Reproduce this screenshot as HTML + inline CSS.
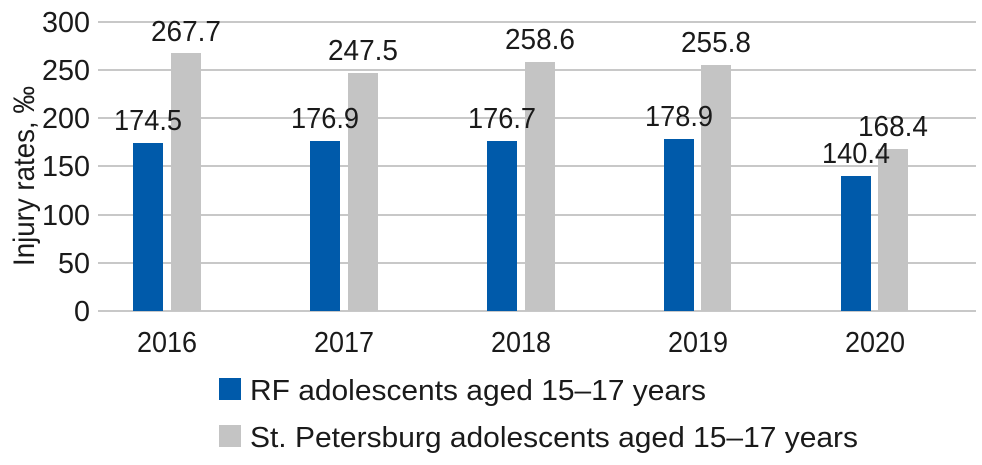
<!DOCTYPE html>
<html><head><meta charset="utf-8"><style>
html,body{margin:0;padding:0;background:#fff;}
text{font-family:"Liberation Sans",sans-serif;fill:#1a1a1a;}
</style></head><body>
<svg width="982" height="460" xmlns="http://www.w3.org/2000/svg">
<g stroke="#c8c8c8" stroke-width="2">
<line x1="98" x2="976" y1="22" y2="22"/>
<line x1="98" x2="976" y1="70" y2="70"/>
<line x1="98" x2="976" y1="118" y2="118"/>
<line x1="98" x2="976" y1="166" y2="166"/>
<line x1="98" x2="976" y1="215" y2="215"/>
<line x1="98" x2="976" y1="263" y2="263"/>
<line x1="98" x2="976" y1="311" y2="311"/>
</g>
<g font-size="29" text-anchor="end" lengthAdjust="spacingAndGlyphs">
<text x="90" y="32" textLength="48" lengthAdjust="spacingAndGlyphs">300</text>
<text x="90" y="80" textLength="48" lengthAdjust="spacingAndGlyphs">250</text>
<text x="90" y="128" textLength="48" lengthAdjust="spacingAndGlyphs">200</text>
<text x="90" y="176" textLength="48" lengthAdjust="spacingAndGlyphs">150</text>
<text x="90" y="225" textLength="48" lengthAdjust="spacingAndGlyphs">100</text>
<text x="90" y="273" textLength="32" lengthAdjust="spacingAndGlyphs">50</text>
<text x="90" y="321" textLength="16" lengthAdjust="spacingAndGlyphs">0</text>
</g>
<text font-size="30" transform="translate(34,176) rotate(-90)" text-anchor="middle" textLength="180" lengthAdjust="spacingAndGlyphs">Injury rates, ‰</text>
<g fill="#005aaa">
<rect x="133" y="143" width="30" height="168"/>
<rect x="310" y="141" width="30" height="170"/>
<rect x="487" y="141" width="30" height="170"/>
<rect x="664" y="139" width="30" height="172"/>
<rect x="841" y="176" width="30" height="135"/>
</g>
<g fill="#c4c4c4">
<rect x="171" y="53" width="30" height="258"/>
<rect x="348" y="73" width="30" height="238"/>
<rect x="525" y="62" width="30" height="249"/>
<rect x="701" y="65" width="30" height="246"/>
<rect x="878" y="149" width="30" height="162"/>
</g>
<g font-size="29" text-anchor="middle">
<text x="148" y="130" textLength="68" lengthAdjust="spacingAndGlyphs">174.5</text>
<text x="186" y="41" textLength="70" lengthAdjust="spacingAndGlyphs">267.7</text>
<text x="325" y="128" textLength="68" lengthAdjust="spacingAndGlyphs">176.9</text>
<text x="363" y="60" textLength="70" lengthAdjust="spacingAndGlyphs">247.5</text>
<text x="502" y="128" textLength="68" lengthAdjust="spacingAndGlyphs">176.7</text>
<text x="540" y="49" textLength="70" lengthAdjust="spacingAndGlyphs">258.6</text>
<text x="679" y="126" textLength="68" lengthAdjust="spacingAndGlyphs">178.9</text>
<text x="716" y="52" textLength="70" lengthAdjust="spacingAndGlyphs">255.8</text>
<text x="856" y="163" textLength="68" lengthAdjust="spacingAndGlyphs">140.4</text>
<text x="893" y="136" textLength="70" lengthAdjust="spacingAndGlyphs">168.4</text>
<text x="167" y="352" textLength="60" lengthAdjust="spacingAndGlyphs">2016</text>
<text x="344" y="352" textLength="60" lengthAdjust="spacingAndGlyphs">2017</text>
<text x="521" y="352" textLength="60" lengthAdjust="spacingAndGlyphs">2018</text>
<text x="698" y="352" textLength="60" lengthAdjust="spacingAndGlyphs">2019</text>
<text x="875" y="352" textLength="60" lengthAdjust="spacingAndGlyphs">2020</text>
</g>
<rect x="219" y="378" width="22" height="22" fill="#005aaa"/>
<rect x="219" y="425" width="22" height="22" fill="#c4c4c4"/>
<g font-size="29">
<text x="250" y="400" textLength="456" lengthAdjust="spacingAndGlyphs">RF adolescents aged 15–17 years</text>
<text x="250" y="447" textLength="608" lengthAdjust="spacingAndGlyphs">St. Petersburg adolescents aged 15–17 years</text>
</g>
</svg>
</body></html>
